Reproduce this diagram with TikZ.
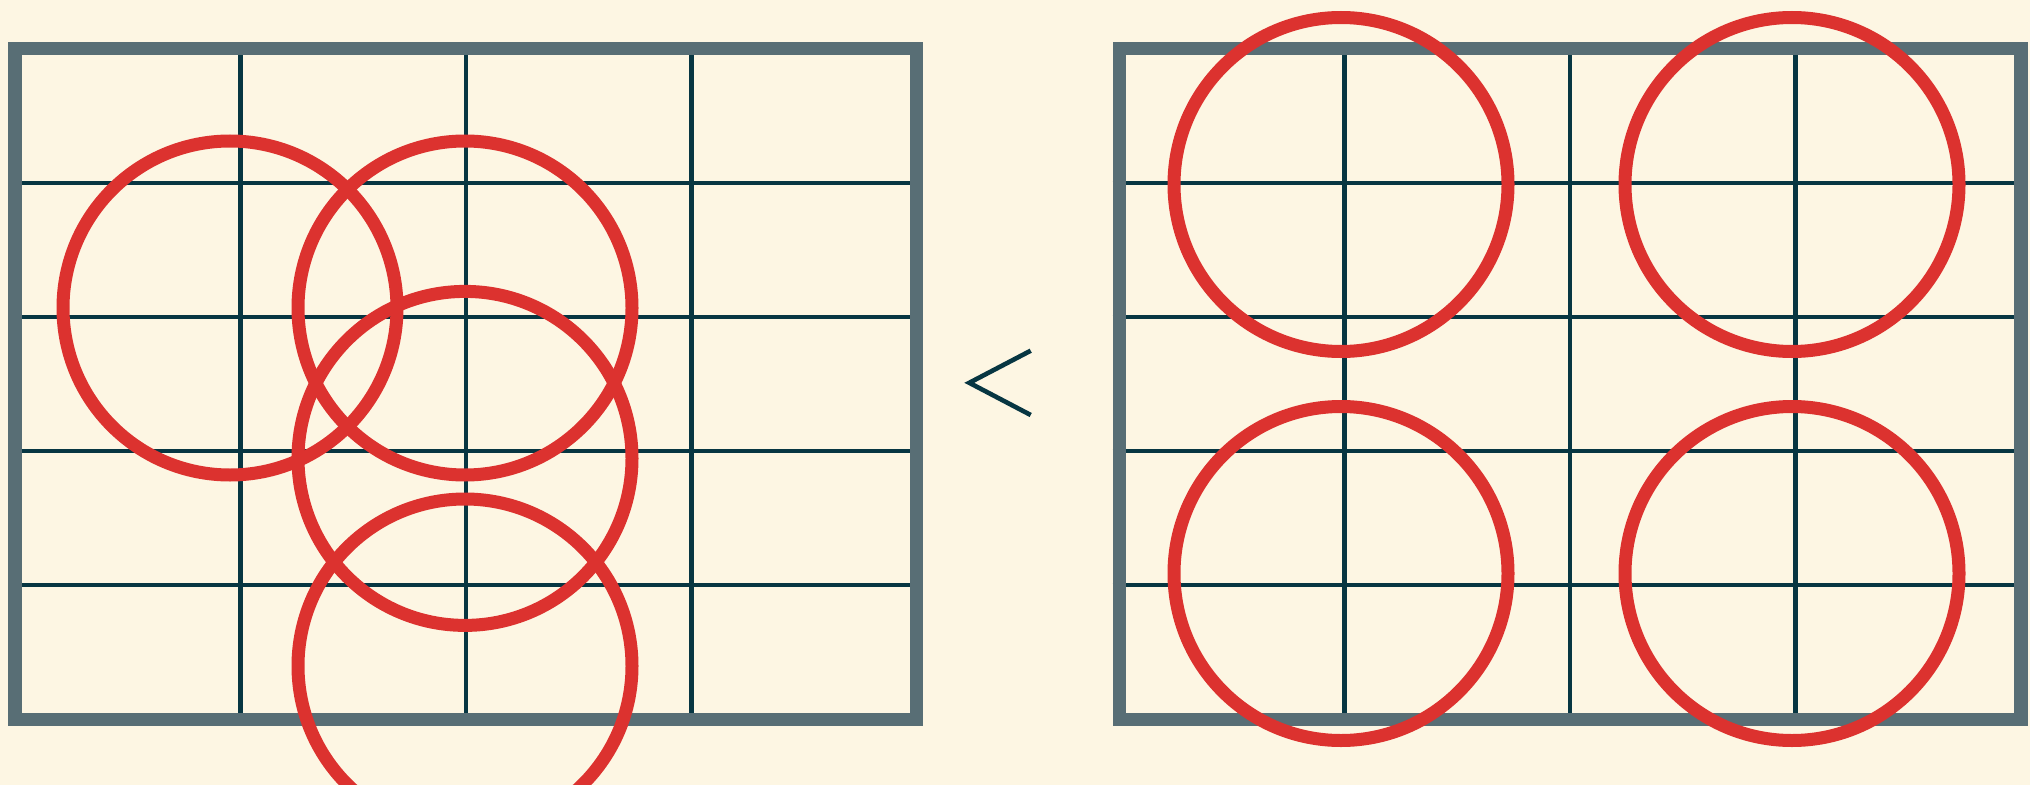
\documentclass[tikz,border=0pt]{standalone}
\definecolor{bgc}{HTML}{FDF6E3}
\definecolor{gridc}{HTML}{073642}
\definecolor{borderc}{HTML}{586E75}
\definecolor{redc}{HTML}{DC322F}
\tikzset{
  gridline/.style={draw=gridc, line width=4.6bp},
  frameline/.style={draw=borderc, line width=13.3bp, line join=miter},
  ring/.style={draw=redc, line width=13bp},
  chevron/.style={draw=gridc, line width=4.6bp, line join=miter, miter limit=20}
}
\begin{document}
\begin{tikzpicture}[x=1bp,y=-1bp]
\fill[bgc] (0,0) rectangle (2030,785);
\useasboundingbox (0,0) rectangle (2030,785);
\clip (0,0) rectangle (2030,785);
% grids
\foreach \ox in {15,1119.3}{
  \begin{scope}[xshift=\ox bp]
    \foreach \i in {1,2,3}{
      \draw[gridline] (\i*225.42,42.3) -- (\i*225.42,726);
    }
    \foreach \j in {1,2,3,4}{
      \draw[gridline] (-6.7,48.7+\j*134.1) -- (908.4,48.7+\j*134.1);
    }
    \draw[frameline] (0,48.7) rectangle (901.7,719.2);
  \end{scope}
}
% chevron
\coordinate (c1) at (1030.7,350.7);
\coordinate (c2) at (969.3,382.8);
\coordinate (c3) at (1030.7,415);
\draw[chevron] (c1) -- (c2) -- (c3);
% left circles
\draw[ring] (230,308) circle[radius=167];
\draw[ring] (465,308) circle[radius=167];
\draw[ring] (465,458.4) circle[radius=167];
\draw[ring] (465,666) circle[radius=167];
% right circles
\draw[ring] (1341,184.5) circle[radius=167];
\draw[ring] (1792,184.5) circle[radius=167];
\draw[ring] (1341,573.5) circle[radius=167];
\draw[ring] (1792,573.5) circle[radius=167];
\end{tikzpicture}
\end{document}
